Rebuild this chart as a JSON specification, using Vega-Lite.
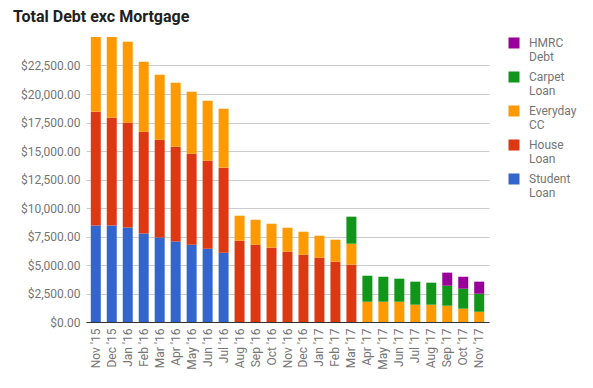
{
  "$schema": "https://vega.github.io/schema/vega-lite/v6.json",
  "width": 403,
  "height": 285,
  "autosize": {"type": "none"},
  "padding": {"left": 86, "top": 37, "right": 104, "bottom": 66},
  "background": "white",
  "title": {"text": "Total Debt exc Mortgage", "anchor": "start", "frame": "group", "dx": -73, "offset": 12, "font": "Roboto", "fontSize": 16, "fontWeight": "bold", "color": "#212121"},
  "data": {"values": [
    {"month": "Nov '15", "debt": "Student Loan", "amount": 8470},
    {"month": "Nov '15", "debt": "House Loan", "amount": 9980},
    {"month": "Nov '15", "debt": "Everyday CC", "amount": 6560},
    {"month": "Dec '15", "debt": "Student Loan", "amount": 8470},
    {"month": "Dec '15", "debt": "House Loan", "amount": 9450},
    {"month": "Dec '15", "debt": "Everyday CC", "amount": 7090},
    {"month": "Jan '16", "debt": "Student Loan", "amount": 8300},
    {"month": "Jan '16", "debt": "House Loan", "amount": 9180},
    {"month": "Jan '16", "debt": "Everyday CC", "amount": 7110},
    {"month": "Feb '16", "debt": "Student Loan", "amount": 7770},
    {"month": "Feb '16", "debt": "House Loan", "amount": 8920},
    {"month": "Feb '16", "debt": "Everyday CC", "amount": 6140},
    {"month": "Mar '16", "debt": "Student Loan", "amount": 7420},
    {"month": "Mar '16", "debt": "House Loan", "amount": 8570},
    {"month": "Mar '16", "debt": "Everyday CC", "amount": 5700},
    {"month": "Apr '16", "debt": "Student Loan", "amount": 7070},
    {"month": "Apr '16", "debt": "House Loan", "amount": 8310},
    {"month": "Apr '16", "debt": "Everyday CC", "amount": 5610},
    {"month": "May '16", "debt": "Student Loan", "amount": 6780},
    {"month": "May '16", "debt": "House Loan", "amount": 7980},
    {"month": "May '16", "debt": "Everyday CC", "amount": 5440},
    {"month": "Jun '16", "debt": "Student Loan", "amount": 6430},
    {"month": "Jun '16", "debt": "House Loan", "amount": 7720},
    {"month": "Jun '16", "debt": "Everyday CC", "amount": 5260},
    {"month": "Jul '16", "debt": "Student Loan", "amount": 6080},
    {"month": "Jul '16", "debt": "House Loan", "amount": 7460},
    {"month": "Jul '16", "debt": "Everyday CC", "amount": 5170},
    {"month": "Aug '16", "debt": "House Loan", "amount": 7130},
    {"month": "Aug '16", "debt": "Everyday CC", "amount": 2195},
    {"month": "Sep '16", "debt": "House Loan", "amount": 6780},
    {"month": "Sep '16", "debt": "Everyday CC", "amount": 2190},
    {"month": "Oct '16", "debt": "House Loan", "amount": 6520},
    {"month": "Oct '16", "debt": "Everyday CC", "amount": 2100},
    {"month": "Nov '16", "debt": "House Loan", "amount": 6170},
    {"month": "Nov '16", "debt": "Everyday CC", "amount": 2100},
    {"month": "Dec '16", "debt": "House Loan", "amount": 5900},
    {"month": "Dec '16", "debt": "Everyday CC", "amount": 2020},
    {"month": "Jan '17", "debt": "House Loan", "amount": 5640},
    {"month": "Jan '17", "debt": "Everyday CC", "amount": 1930},
    {"month": "Feb '17", "debt": "House Loan", "amount": 5290},
    {"month": "Feb '17", "debt": "Everyday CC", "amount": 1930},
    {"month": "Mar '17", "debt": "House Loan", "amount": 5030},
    {"month": "Mar '17", "debt": "Everyday CC", "amount": 1840},
    {"month": "Mar '17", "debt": "Carpet Loan", "amount": 2370},
    {"month": "Apr '17", "debt": "Everyday CC", "amount": 1780},
    {"month": "Apr '17", "debt": "Carpet Loan", "amount": 2280},
    {"month": "May '17", "debt": "Everyday CC", "amount": 1780},
    {"month": "May '17", "debt": "Carpet Loan", "amount": 2190},
    {"month": "Jun '17", "debt": "Everyday CC", "amount": 1780},
    {"month": "Jun '17", "debt": "Carpet Loan", "amount": 2020},
    {"month": "Jul '17", "debt": "Everyday CC", "amount": 1520},
    {"month": "Jul '17", "debt": "Carpet Loan", "amount": 2020},
    {"month": "Aug '17", "debt": "Everyday CC", "amount": 1520},
    {"month": "Aug '17", "debt": "Carpet Loan", "amount": 1930},
    {"month": "Sep '17", "debt": "Everyday CC", "amount": 1430},
    {"month": "Sep '17", "debt": "Carpet Loan", "amount": 1750},
    {"month": "Sep '17", "debt": "HMRC Debt", "amount": 1150},
    {"month": "Oct '17", "debt": "Everyday CC", "amount": 1170},
    {"month": "Oct '17", "debt": "Carpet Loan", "amount": 1750},
    {"month": "Oct '17", "debt": "HMRC Debt", "amount": 1050},
    {"month": "Nov '17", "debt": "Everyday CC", "amount": 900},
    {"month": "Nov '17", "debt": "Carpet Loan", "amount": 1580},
    {"month": "Nov '17", "debt": "HMRC Debt", "amount": 1060}
  ]},
  "transform": [
    {"calculate": "indexof(['Student Loan', 'House Loan', 'Everyday CC', 'Carpet Loan', 'HMRC Debt'], datum.debt)", "as": "stackOrder"}
  ],
  "mark": {"type": "bar", "clip": true},
  "encoding": {
    "x": {
      "field": "month", "type": "ordinal", "sort": null,
      "scale": {"paddingInner": 0.375, "paddingOuter": 0.3},
      "axis": {"title": null, "labelAngle": -90, "labelPadding": 6, "ticks": false, "labelFont": "Roboto", "labelFontSize": 12, "labelColor": "#757575", "domainColor": "#333333", "domainWidth": 1}
    },
    "y": {
      "field": "amount", "type": "quantitative", "stack": "zero",
      "scale": {"domain": [0, 25000], "nice": false},
      "axis": {"title": null, "values": [0, 2500, 5000, 7500, 10000, 12500, 15000, 17500, 20000, 22500], "format": "$,.2f", "domain": false, "ticks": false, "labelPadding": 6, "labelFont": "Roboto", "labelFontSize": 12, "labelColor": "#757575", "gridColor": "#cccccc"}
    },
    "order": {"field": "stackOrder", "type": "quantitative", "sort": "ascending"},
    "color": {
      "field": "debt", "type": "nominal",
      "scale": {"domain": ["Student Loan", "House Loan", "Everyday CC", "Carpet Loan", "HMRC Debt"], "range": ["#3366cc", "#dc3912", "#ff9900", "#109618", "#990099"]},
      "legend": {
        "title": null, "orient": "none", "legendX": 422, "legendY": 0,
        "values": ["HMRC Debt", "Carpet Loan", "Everyday CC", "House Loan", "Student Loan"],
        "symbolType": "square", "symbolSize": 121, "symbolStrokeWidth": 0,
        "labelFont": "Roboto", "labelFontSize": 12, "labelColor": "#757575",
        "labelExpr": "split(datum.label, ' ')", "rowPadding": 8, "labelOffset": 9
      }
    }
  },
  "config": {"view": {"stroke": null}}
}
